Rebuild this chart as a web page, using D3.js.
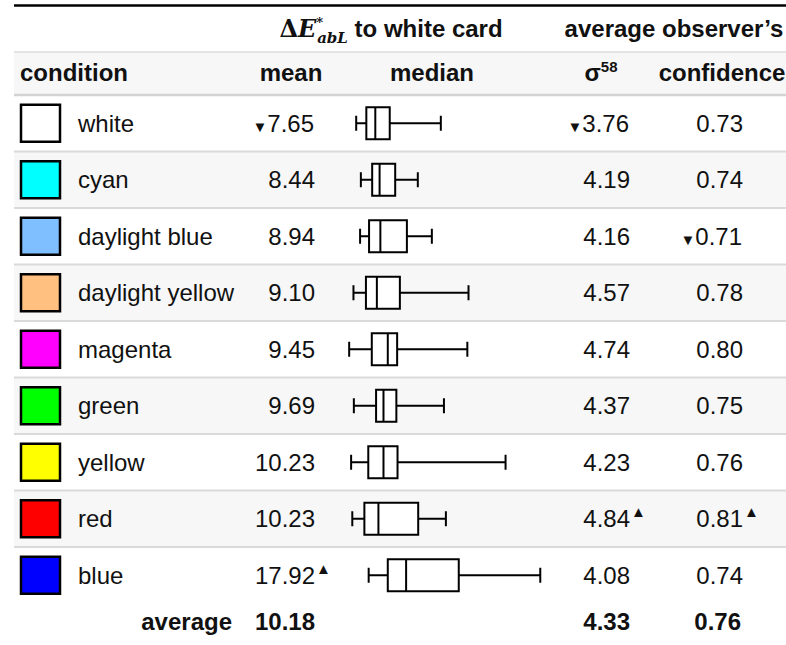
<!DOCTYPE html>
<html>
<head>
<meta charset="utf-8">
<title>Delta E to white card</title>
<script src="https://d3js.org/d3.v7.min.js"></script>
<style>
  body { margin: 0; background: #fff; }
  svg text { font-family: "Liberation Sans", Arial, sans-serif; font-size: 24px; fill: #111; }
  .bold { font-weight: bold; }
</style>
</head>
<body>
<div id="chart"></div>
<script>
// condition names and swatch colours
const conditions = ["white", "cyan", "daylight blue", "daylight yellow", "magenta", "green", "yellow", "red", "blue"];
const swatchColors = ["#ffffff", "#00ffff", "#80bfff", "#ffc080", "#ff00ff", "#00ff00", "#ffff00", "#ff0000", "#0000ff"];

// mean Delta E to white card
const meanDE = [7.65, 8.44, 8.94, 9.10, 9.45, 9.69, 10.23, 10.23, 17.92];

// box plot values
const whiskerLow  = [2.1, 3.3, 3.1, 1.4, 0.3, 1.5, 0.8, 1.1, 5.3];
const q1          = [4.7, 6.2, 5.4, 4.6, 6.1, 7.2, 5.2, 4.2, 10.2];
const medianDE    = [7.0, 8.1, 8.3, 7.4, 10.2, 9.1, 9.1, 7.8, 14.9];
const q3          = [10.7, 12.1, 15.1, 13.3, 12.6, 12.4, 12.7, 18.0, 28.4];
const whiskerHigh = [23.8, 17.9, 21.5, 30.9, 30.6, 24.6, 40.4, 25.1, 49.3];

// average observer's sigma58 and confidence
const sigma58 = [3.76, 4.19, 4.16, 4.57, 4.74, 4.37, 4.23, 4.84, 4.08];
const confidence = [0.73, 0.74, 0.71, 0.78, 0.80, 0.75, 0.76, 0.81, 0.74];

// average row
const averageRow = {label: "average", mean: 10.18, sigma: 4.33, confidence: 0.76};

const W = 786, H = 645;
const left = 14;
const headMid = 52, headBottom = 95, rowsBottom = 603.5;

const svg = d3.select("#chart").append("svg")
  .attr("width", W).attr("height", H);

const rows = conditions.map((c, i) => ({
  name: c, color: swatchColors[i], mean: meanDE[i],
  lo: whiskerLow[i], q1: q1[i], med: medianDE[i], q3: q3[i], hi: whiskerHigh[i],
  sigma: sigma58[i], conf: confidence[i]
}));

const y = d3.scaleBand().domain(conditions).range([headBottom, rowsBottom]);
const x = d3.scaleLinear().domain([0, 50]).range([348, 543]);
const fmt = d3.format(".2f");

// column anchors
const col = {name: 78, mean: 315, median: 432, sigma: 630, conf: 743};

// header backgrounds + rules
svg.append("rect").attr("x", left).attr("y", headMid).attr("width", W - left).attr("height", headBottom - headMid)
  .attr("fill", "#f7f7f7");
svg.append("line").attr("x1", left).attr("x2", W).attr("y1", 5.5).attr("y2", 5.5)
  .attr("stroke", "#000").attr("stroke-width", 2.5);
svg.append("line").attr("x1", left).attr("x2", W).attr("y1", headMid).attr("y2", headMid)
  .attr("stroke", "#dcdcdc").attr("stroke-width", 1.5);

// row stripes
svg.selectAll(".stripe").data(rows.filter((d, i) => i % 2 === 1)).enter()
  .append("rect").attr("class", "stripe")
  .attr("x", left).attr("y", d => y(d.name)).attr("width", W - left).attr("height", y.bandwidth())
  .attr("fill", "#f7f7f7");

// row separators
svg.selectAll(".sep").data(rows.slice(1)).enter()
  .append("line").attr("class", "sep")
  .attr("x1", left).attr("x2", W)
  .attr("y1", d => y(d.name)).attr("y2", d => y(d.name))
  .attr("stroke", "#dadada").attr("stroke-width", 2);
svg.append("line").attr("x1", left).attr("x2", W).attr("y1", headBottom).attr("y2", headBottom)
  .attr("stroke", "#d3d3d3").attr("stroke-width", 2.5);

// header row 1
const h1 = svg.append("text").attr("class", "bold").attr("x", 391).attr("y", 37).attr("text-anchor", "middle");
h1.append("tspan").style("font-family", "DejaVu Serif").style("font-weight", "bold").text("Δ");
h1.append("tspan").style("font-family", "DejaVu Serif").style("font-weight", "bold").style("font-style", "italic").text("E");
h1.append("tspan").style("font-family", "DejaVu Serif").style("font-size", "13px").attr("dy", -10).text("*");
h1.append("tspan").style("font-family", "DejaVu Serif").style("font-weight", "bold").style("font-style", "italic")
  .style("font-size", "15px").attr("dx", -6).attr("dy", 16).text("abL");
h1.append("tspan").attr("dy", -6).text(" to white card");

svg.append("text").attr("class", "bold").attr("x", 674).attr("y", 37).attr("text-anchor", "middle")
  .text("average observer’s");

// header row 2
svg.append("text").attr("class", "bold").attr("x", 20).attr("y", 81).text("condition");
svg.append("text").attr("class", "bold").attr("x", 291).attr("y", 81).attr("text-anchor", "middle").text("mean");
svg.append("text").attr("class", "bold").attr("x", col.median).attr("y", 81).attr("text-anchor", "middle").text("median");
const sg = svg.append("text").attr("class", "bold").attr("x", 601).attr("y", 81).attr("text-anchor", "middle");
sg.append("tspan").text("σ");
sg.append("tspan").style("font-size", "15px").attr("dy", -9).text("58");
svg.append("text").attr("class", "bold").attr("x", 722).attr("y", 81).attr("text-anchor", "middle").text("confidence");

// rows
const g = svg.selectAll(".row").data(rows).enter()
  .append("g").attr("class", "row")
  .attr("transform", d => `translate(0,${y(d.name) + y.bandwidth() / 2})`);

g.append("rect")
  .attr("x", 21).attr("y", -18.5).attr("width", 39).attr("height", 37)
  .attr("fill", d => d.color).attr("stroke", "#000").attr("stroke-width", 2.5);

g.append("text").attr("x", col.name).attr("dy", "0.36em").text(d => d.name);

// value columns with min/max markers
function valueColumn(key, xPos) {
  const lo = d3.min(rows, d => d[key]), hi = d3.max(rows, d => d[key]);
  const t = g.append("text").attr("x", xPos).attr("dy", "0.36em").attr("text-anchor", "end");
  t.filter(d => d[key] === lo).append("tspan").style("font-size", "15px").attr("dx", -1).text("▼");
  t.append("tspan").text(d => fmt(d[key]));
  g.filter(d => d[key] === hi).append("text")
    .attr("x", xPos + 1).attr("dy", "-0.1em").style("font-size", "15px").text("▲");
}
valueColumn("mean", col.mean);
valueColumn("sigma", col.sigma);
valueColumn("conf", col.conf);

// box plots
const bp = g.append("g").attr("fill", "none").attr("stroke", "#000").attr("stroke-width", 2);
bp.append("line").attr("x1", d => x(d.lo)).attr("x2", d => x(d.q1)).attr("y1", 0).attr("y2", 0);
bp.append("line").attr("x1", d => x(d.q3)).attr("x2", d => x(d.hi)).attr("y1", 0).attr("y2", 0);
bp.append("line").attr("x1", d => x(d.lo)).attr("x2", d => x(d.lo)).attr("y1", -7.5).attr("y2", 7.5);
bp.append("line").attr("x1", d => x(d.hi)).attr("x2", d => x(d.hi)).attr("y1", -7.5).attr("y2", 7.5);
bp.append("rect").attr("x", d => x(d.q1)).attr("y", -16).attr("width", d => x(d.q3) - x(d.q1)).attr("height", 32)
  .attr("fill", "#fff");
bp.append("line").attr("x1", d => x(d.med)).attr("x2", d => x(d.med)).attr("y1", -16).attr("y2", 16);

// average row
const avgY = 621;
svg.append("text").attr("class", "bold").attr("x", 232).attr("y", avgY).attr("dy", "0.36em")
  .attr("text-anchor", "end").text(averageRow.label);
svg.append("text").attr("class", "bold").attr("x", col.mean).attr("y", avgY).attr("dy", "0.36em")
  .attr("text-anchor", "end").text(fmt(averageRow.mean));
svg.append("text").attr("class", "bold").attr("x", col.sigma).attr("y", avgY).attr("dy", "0.36em")
  .attr("text-anchor", "end").text(fmt(averageRow.sigma));
svg.append("text").attr("class", "bold").attr("x", col.conf - 2).attr("y", avgY).attr("dy", "0.36em")
  .attr("text-anchor", "end").text(fmt(averageRow.confidence));
</script>
</body>
</html>
